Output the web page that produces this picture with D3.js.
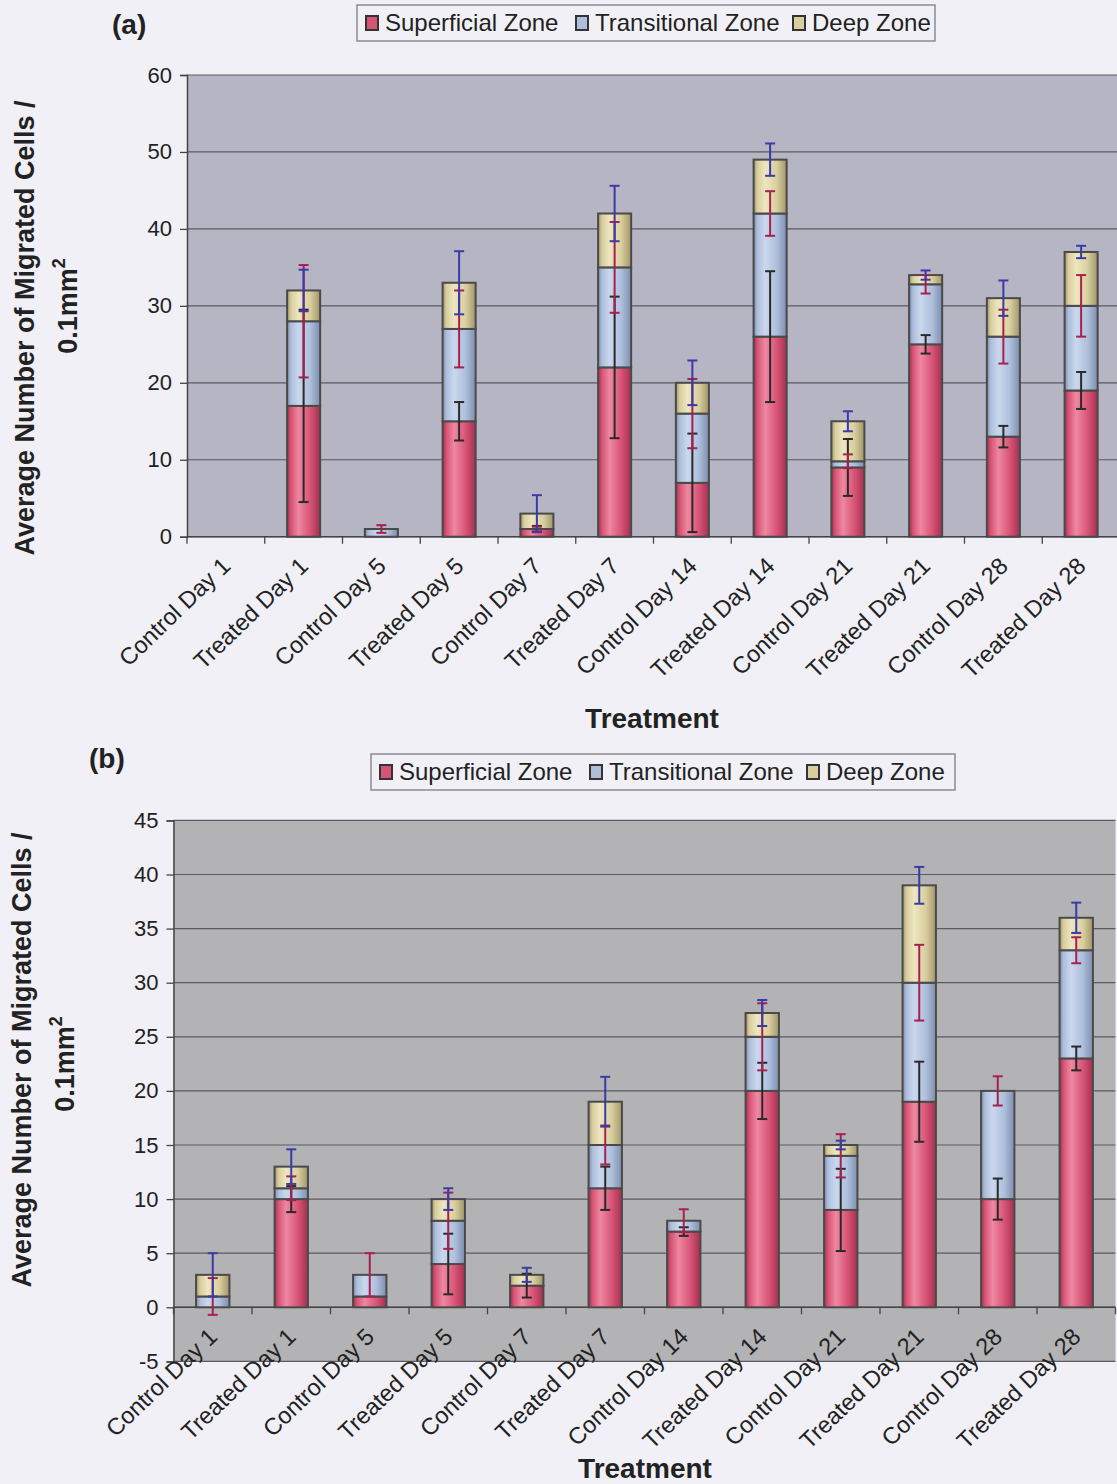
<!DOCTYPE html>
<html>
<head>
<meta charset="utf-8">
<script src="https://cdn.jsdelivr.net/npm/d3@7"></script>
<style>
  html, body { margin: 0; padding: 0; background: #f0f0f6; }
  svg { display: block; }
  text { font-family: "Liberation Sans", Arial, sans-serif; fill: #222; }
</style>
</head>
<body>
<svg id="chart" width="1117" height="1484"></svg>
<script>
// Treatment groups along the x axis (shared by both panels)
const categories = ["Control Day 1", "Treated Day 1", "Control Day 5", "Treated Day 5",
  "Control Day 7", "Treated Day 7", "Control Day 14", "Treated Day 14",
  "Control Day 21", "Treated Day 21", "Control Day 28", "Treated Day 28"];
const zones = ["Superficial Zone", "Transitional Zone", "Deep Zone"];

// Panel (a): mean migrated cells per zone and error half-widths
const aSuperficial   = [0, 17, 0, 15, 1, 22, 7, 26, 9, 25, 13, 19];
const aTransitional  = [0, 11, 1, 12, 0, 13, 9, 16, 0.8, 7.8, 13, 11];
const aDeep          = [0, 4, 0, 6, 2, 7, 4, 7, 5.2, 1.2, 5, 7];
const aSuperficialErr  = [0, 12.5, 0, 2.5, 0.4, 9.2, 6.4, 8.5, 3.7, 1.2, 1.4, 2.4];
const aTransitionalErr = [0, 7.3, 0.5, 5, 0.3, 5.9, 4.5, 2.9, 0.9, 1.2, 3.5, 4];
const aDeepErr         = [0, 2.7, 0, 4.1, 2.4, 3.6, 2.9, 2.1, 1.3, 0.6, 2.3, 0.8];
const aTicks = [0, 10, 20, 30, 40, 50, 60];

// Panel (b)
const bSuperficial   = [0, 10, 1, 4, 2, 11, 7, 20, 9, 19, 10, 23];
const bTransitional  = [1, 1, 2, 4, 0, 4, 1, 5, 5, 11, 10, 10];
const bDeep          = [2, 2, 0, 2, 1, 4, 0, 2.2, 1, 9, 0, 3];
const bSuperficialErr  = [0, 1.2, 0, 2.8, 1.1, 2, 0.4, 2.6, 3.8, 3.7, 1.9, 1.1];
const bTransitionalErr = [1.7, 1.1, 2, 2.6, 0, 1.8, 1.06, 3.1, 2, 3.5, 1.35, 1.2];
const bDeepErr         = [2, 1.6, 0, 1, 0.65, 2.3, 0, 1.2, 0.4, 1.7, 0, 1.4];
const bTicks = [-5, 0, 5, 10, 15, 20, 25, 30, 35, 40, 45];

const zoneColors = {
  "Superficial Zone":  { dark: "#a43050", base: "#d85476", light: "#ee88a0" },
  "Transitional Zone": { dark: "#7e8eae", base: "#aebfdc", light: "#cad8ee" },
  "Deep Zone":         { dark: "#a2966a", base: "#d8ce9e", light: "#eee6c0" }
};
const errColors = { "Superficial Zone": "#2a2a2a", "Transitional Zone": "#a8204e", "Deep Zone": "#3a3aa8" };

const svg = d3.select("#chart");
const defs = svg.append("defs");
zones.forEach((z, i) => {
  const c = zoneColors[z];
  const g = defs.append("linearGradient").attr("id", "grad" + i)
    .attr("x1", "0%").attr("x2", "100%").attr("y1", "0%").attr("y2", "0%");
  [[0, c.dark], [0.12, c.base], [0.35, c.light], [0.7, c.base], [1, c.dark]].forEach(([o, col]) =>
    g.append("stop").attr("offset", o).attr("stop-color", col));
});

function drawPanel(opt) {
  const g = svg.append("g");
  const x = d3.scaleBand().domain(categories).range([opt.left, opt.right])
    .paddingInner(0.575).paddingOuter(0.2875);
  const y = d3.scaleLinear().domain(opt.domain).range([opt.bottom, opt.top]);

  // plot area
  g.append("rect").attr("x", opt.left).attr("y", opt.top)
    .attr("width", opt.right - opt.left).attr("height", opt.bottom - opt.top)
    .attr("fill", opt.plotFill);

  // gridlines
  g.append("g").selectAll("line").data(opt.ticks).join("line")
    .attr("x1", opt.left).attr("x2", opt.right)
    .attr("y1", d => y(d)).attr("y2", d => y(d))
    .attr("stroke", "#5a5a62").attr("stroke-width", 1.2);

  // y axis
  const yAxis = g.append("g").attr("transform", `translate(${opt.left},0)`)
    .call(d3.axisLeft(y).tickValues(opt.ticks).tickSize(7).tickPadding(8).tickFormat(d => String(d)));
  yAxis.select(".domain").attr("stroke", "#444").attr("stroke-width", 1.5);
  yAxis.selectAll(".tick line").attr("stroke", "#444").attr("stroke-width", 1.3);
  yAxis.selectAll(".tick text").attr("font-size", 22).attr("fill", "#222")
    .attr("font-family", "Liberation Sans, Arial, sans-serif");

  // category axis at zero with boundary ticks
  const y0 = y(0);
  g.append("line").attr("x1", opt.left).attr("x2", opt.right).attr("y1", y0).attr("y2", y0)
    .attr("stroke", "#444").attr("stroke-width", 1.5);
  g.append("g").selectAll("line").data(d3.range(categories.length + 1)).join("line")
    .attr("x1", i => opt.left + i * x.step()).attr("x2", i => opt.left + i * x.step())
    .attr("y1", y0).attr("y2", y0 + 7)
    .attr("stroke", "#444").attr("stroke-width", 1.3);

  // stacked bars
  const table = categories.map((c, i) => ({
    cat: c,
    "Superficial Zone": opt.values[0][i],
    "Transitional Zone": opt.values[1][i],
    "Deep Zone": opt.values[2][i]
  }));
  const stacked = d3.stack().keys(zones)(table);
  stacked.forEach((layer, li) => {
    g.append("g").selectAll("rect").data(layer.filter(d => d[1] - d[0] > 0)).join("rect")
      .attr("x", d => x(d.data.cat))
      .attr("width", x.bandwidth())
      .attr("y", d => y(d[1]))
      .attr("height", d => y(d[0]) - y(d[1]))
      .attr("fill", `url(#grad${li})`)
      .attr("stroke", "#4a4a4a").attr("stroke-width", 2);
  });

  // error bars centred on each cumulative segment top
  stacked.forEach((layer, li) => {
    const err = opt.errors[li];
    const col = errColors[zones[li]];
    const data = layer.map((d, i) => ({ cat: d.data.cat, v: d[1], e: err[i] })).filter(d => d.e > 0);
    const eg = g.append("g").attr("stroke", col).attr("stroke-width", 2);
    const cx = d => x(d.cat) + x.bandwidth() / 2;
    eg.selectAll("line.v").data(data).join("line").attr("class", "v")
      .attr("x1", cx).attr("x2", cx)
      .attr("y1", d => y(d.v - d.e)).attr("y2", d => y(d.v + d.e));
    eg.selectAll("line.t").data(data).join("line").attr("class", "t")
      .attr("x1", d => cx(d) - 5).attr("x2", d => cx(d) + 5)
      .attr("y1", d => y(d.v + d.e)).attr("y2", d => y(d.v + d.e));
    eg.selectAll("line.b").data(data).join("line").attr("class", "b")
      .attr("x1", d => cx(d) - 5).attr("x2", d => cx(d) + 5)
      .attr("y1", d => y(d.v - d.e)).attr("y2", d => y(d.v - d.e));
  });

  // rotated category labels
  g.append("g").selectAll("text").data(categories).join("text")
    .attr("transform", d => `translate(${x(d) + x.bandwidth() / 2 + 6},${y0 + 31}) rotate(-44)`)
    .attr("text-anchor", "end")
    .attr("font-size", 23.5)
    .text(d => d);

  // axis titles
  g.append("text").attr("x", opt.titleX).attr("y", opt.titleY)
    .attr("text-anchor", "middle").attr("font-size", 28).attr("font-weight", "bold")
    .text("Treatment");

  const yt = g.append("g");
  yt.append("text")
    .attr("transform", `translate(${opt.yTitleX1},${opt.yTitleY1}) rotate(-90)`)
    .attr("text-anchor", "middle").attr("font-size", 27).attr("font-weight", "bold")
    .text("Average Number of Migrated Cells /");
  const t2 = yt.append("text")
    .attr("transform", `translate(${opt.yTitleX2},${opt.yTitleY2}) rotate(-90)`)
    .attr("text-anchor", "middle").attr("font-size", 27).attr("font-weight", "bold");
  t2.append("tspan").text("0.1mm");
  t2.append("tspan").attr("dy", -12).attr("font-size", 18).text("2");

  // panel letter
  g.append("text").attr("x", opt.letterX).attr("y", opt.letterY)
    .attr("font-family", "Liberation Serif, Times New Roman, serif")
    .attr("font-weight", "bold").attr("font-size", 28).text(opt.letter);

  // legend
  const lg = g.append("g");
  lg.append("rect").attr("x", opt.legendX).attr("y", opt.legendY)
    .attr("width", opt.legendW).attr("height", 36)
    .attr("fill", "#f0f0f6").attr("stroke", "#8a8a90").attr("stroke-width", 1.5);
  const itemX = [0, 210, 427];
  zones.forEach((z, i) => {
    const ix = opt.legendX + 9 + itemX[i];
    lg.append("rect").attr("x", ix).attr("y", opt.legendY + 11).attr("width", 12).attr("height", 14)
      .attr("fill", zoneColors[z].base).attr("stroke", "#333").attr("stroke-width", 2);
    lg.append("text").attr("x", ix + 19).attr("y", opt.legendY + 26)
      .attr("font-size", 24).text(z);
  });
}

drawPanel({
  left: 187, right: 1120, top: 75, bottom: 536.7,
  domain: [0, 60], ticks: aTicks, plotFill: "#b5b5c3",
  values: [aSuperficial, aTransitional, aDeep],
  errors: [aSuperficialErr, aTransitionalErr, aDeepErr],
  titleX: 652, titleY: 728,
  yTitleX1: 34, yTitleY1: 328, yTitleX2: 77, yTitleY2: 306,
  letter: "(a)", letterX: 112, letterY: 34,
  legendX: 357, legendY: 5, legendW: 578
});

drawPanel({
  left: 173.5, right: 1115.5, top: 820.4, bottom: 1361.4,
  domain: [-5, 45], ticks: bTicks, plotFill: "#b3b3b5",
  values: [bSuperficial, bTransitional, bDeep],
  errors: [bSuperficialErr, bTransitionalErr, bDeepErr],
  titleX: 645, titleY: 1478,
  yTitleX1: 31, yTitleY1: 1060, yTitleX2: 74, yTitleY2: 1064,
  letter: "(b)", letterX: 89, letterY: 768,
  legendX: 371, legendY: 754, legendW: 584
});
</script>
</body>
</html>
